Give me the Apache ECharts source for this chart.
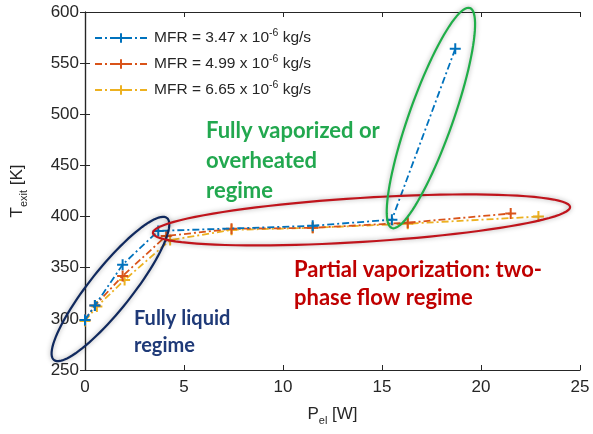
<!DOCTYPE html>
<html lang="en">
<head>
    <meta charset="UTF-8">
    <title>T_exit vs P_el</title>
    <script src="https://cdn.jsdelivr.net/npm/echarts@6/dist/echarts.min.js"></script>
</head>
<body style="margin:0">
    <div id="main" style="width: 593px;height: 434px"></div>
    <script>
        // 三组流量的数据
        var mfrLabels = ['3.47', '4.99', '6.65'];
        var colors = ['#0072BD', '#D95319', '#EDB120'];
        var xBlue = [0, 0.5, 1.9, 3.7, 11.5, 15.5, 18.7];
        var yBlue = [299, 313, 353, 386, 391, 397, 564];
        var xOrange = [0, 0.5, 1.9, 4.1, 7.4, 11.5, 16.3, 21.5];
        var yOrange = [299, 313, 342, 381, 388, 389, 394, 403];
        var xYellow = [0, 0.6, 2.0, 4.3, 7.4, 11.5, 16.3, 22.9];
        var yYellow = [298, 312, 338, 377, 387, 389, 393, 400];
        var xTicks = [0, 5, 10, 15, 20, 25];
        var yTicks = [250, 300, 350, 400, 450, 500, 550, 600];

        // 椭圆标注：两端点(数据坐标) + 短半轴(px)
        var ellipseTipA = [[-1.57, 259.8], [3.43, 384.0], [15.5, 388.8]];
        var ellipseTipB = [[4.14, 398.6], [24.5, 409.4], [19.44, 603.9]];
        var ellipseHalfWidth = [21, 22, 22];
        var ellipseColors = ['#10295e', '#c0141c', '#1fae48'];

        function zip(xs, ys) {
            return xs.map(function (x, i) { return [x, ys[i]]; });
        }

        var plus = 'path://M0,5L10,5M5,0L5,10';
        var seriesData = [zip(xBlue, yBlue), zip(xOrange, yOrange), zip(xYellow, yYellow)];

        var mCharts = echarts.init(document.getElementById('main'));

        var series = seriesData.map(function (d, i) {
            return {
                name: mfrLabels[i],
                type: 'line',
                data: d,
                symbol: plus,
                symbolSize: 11,
                showAllSymbol: true,
                itemStyle: { color: colors[i], borderColor: colors[i], borderWidth: 2 },
                lineStyle: { color: colors[i], width: 1.8, type: [7, 3, 2, 3] },
                z: 3 - i + 2
            };
        });

        series.push({
            type: 'custom',
            data: ellipseTipA.map(function (a, i) { return [a[0], a[1], ellipseTipB[i][0], ellipseTipB[i][1], i]; }),
            clip: false,
            silent: true,
            z: 10,
            renderItem: function (params, api) {
                var i = api.value(4);
                var p1 = api.coord([api.value(0), api.value(1)]);
                var p2 = api.coord([api.value(2), api.value(3)]);
                var cx = (p1[0] + p2[0]) / 2, cy = (p1[1] + p2[1]) / 2;
                var dx = p2[0] - p1[0], dy = p2[1] - p1[1];
                var a = Math.sqrt(dx * dx + dy * dy) / 2;
                var b = ellipseHalfWidth[i];
                var ang = Math.atan2(dy, dx);
                var pts = [];
                for (var k = 0; k < 96; k++) {
                    var t = k / 96 * Math.PI * 2;
                    var ex = a * Math.cos(t), ey = b * Math.sin(t);
                    pts.push([cx + ex * Math.cos(ang) - ey * Math.sin(ang), cy + ex * Math.sin(ang) + ey * Math.cos(ang)]);
                }
                return {
                    type: 'polygon',
                    shape: { points: pts },
                    style: {
                        fill: 'none',
                        stroke: ellipseColors[i],
                        lineWidth: 2.2,
                        shadowBlur: 5,
                        shadowColor: 'rgba(0,0,0,0.35)'
                    }
                };
            }
        });

        var axisCommon = {
            axisLine: { show: true, lineStyle: { color: '#262626', width: 1.2 } },
            axisTick: { show: true, inside: true, length: 5, lineStyle: { color: '#262626' } },
            splitLine: { show: false }
        };

        var option = {
            animation: false,
            backgroundColor: '#fff',
            grid: { left: 85, right: 13, top: 12, bottom: 64 },
            legend: {
                orient: 'vertical',
                left: 89,
                top: 23,
                itemWidth: 52,
                itemHeight: 12,
                itemGap: 8,
                data: mfrLabels,
                formatter: function (name) {
                    return '{a|MFR = ' + name + ' x 10}{s|-6}{a| kg/s}';
                },
                textStyle: {
                    padding: [0, 0, 0, 2],
                    rich: {
                        a: { fontFamily: 'Liberation Sans', fontSize: 15.5, color: '#262626' },
                        s: { fontFamily: 'Liberation Sans', fontSize: 10.5, color: '#262626', verticalAlign: 'top', padding: [0, 0, 9, 0] }
                    }
                }
            },
            xAxis: [Object.assign({
                type: 'value', min: xTicks[0], max: xTicks[xTicks.length - 1], interval: 5,
                name: '{a|P}{s|el}{a| [W]}', nameLocation: 'middle', nameGap: 33,
                nameTextStyle: {
                    rich: {
                        a: { fontFamily: 'Liberation Sans', fontSize: 17, color: '#262626' },
                        s: { fontFamily: 'Liberation Sans', fontSize: 11, color: '#262626', padding: [12, 0, 0, 0] }
                    }
                },
                axisLabel: { fontFamily: 'Liberation Sans', fontSize: 17, color: '#262626', margin: 9 }
            }, axisCommon), Object.assign({
                type: 'value', position: 'top', min: xTicks[0], max: xTicks[xTicks.length - 1], interval: 5,
                axisLabel: { show: false }
            }, axisCommon)],
            yAxis: [Object.assign({
                type: 'value', min: yTicks[0], max: yTicks[yTicks.length - 1], interval: 50,
                name: '{a|T}{s|exit}{a| [K]}', nameLocation: 'middle', nameGap: 56,
                nameTextStyle: {
                    rich: {
                        a: { fontFamily: 'Liberation Sans', fontSize: 17, color: '#262626' },
                        s: { fontFamily: 'Liberation Sans', fontSize: 11, color: '#262626', padding: [12, 0, 0, 0] }
                    }
                },
                axisLabel: { fontFamily: 'Liberation Sans', fontSize: 17, color: '#262626', margin: 6 }
            }, axisCommon), Object.assign({
                type: 'value', position: 'right', min: yTicks[0], max: yTicks[yTicks.length - 1], interval: 50,
                axisLabel: { show: false }
            }, axisCommon)],
            graphic: [
                {
                    type: 'text', left: 206, top: 116, z: 20,
                    style: {
                        text: 'Fully vaporized or\noverheated\nregime',
                        font: 'bold 22px Lato', fill: '#22a84f', lineHeight: 30
                    }
                },
                {
                    type: 'text', left: 294, top: 256, z: 20,
                    style: {
                        text: 'Partial vaporization: two-\nphase flow regime',
                        font: 'bold 22px Lato', fill: '#c00000', lineHeight: 28
                    }
                },
                {
                    type: 'text', left: 134, top: 305, z: 20,
                    style: {
                        text: 'Fully liquid\nregime',
                        font: 'bold 20px Lato', fill: '#1f3a78', lineHeight: 27
                    }
                }
            ],
            series: series
        };
        mCharts.setOption(option);
    </script>
</body>
</html>
